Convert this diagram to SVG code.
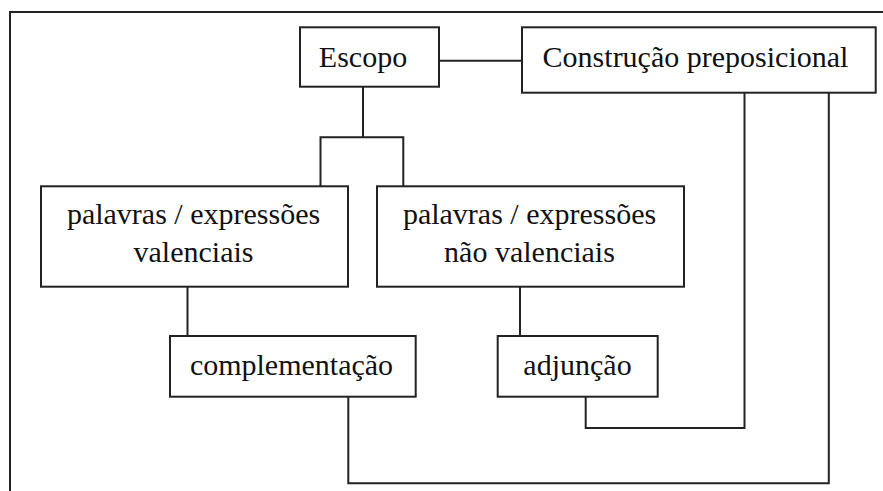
<svg xmlns="http://www.w3.org/2000/svg" width="883" height="491" viewBox="0 0 883 491">
<style>
.box{fill:#fff;stroke:#222;stroke-width:2}
.ln{fill:none;stroke:#222;stroke-width:2}
.t{font-size:30px;fill:#111;text-anchor:middle}
</style>
<rect x="0" y="0" width="883" height="491" fill="#fff"/>
<g id="frame"><path class="ln" d="M10,491 V12 H883"/></g>
<g id="connectors">
<path class="ln" d="M439,60.7 H522"/>
<path class="ln" d="M363,86.7 V137.3 M320.5,186.3 V137.3 H403.3 V186.7"/>
<path class="ln" d="M187.5,286.7 V336"/>
<path class="ln" d="M520,286.3 V336"/>
<path class="ln" d="M585.7,396.7 V428 H744.5 V92.7"/>
<path class="ln" d="M348.3,396.7 V483.3 H828.8 V92.7"/>
</g>
<g font-family="Liberation Serif, Tinos, DejaVu Serif, serif">
<g id="escopo"><rect class="box" x="300" y="27.3" width="139" height="59.4"/><text class="t" x="363" y="66.7">Escopo</text></g>
<g id="construcao"><rect class="box" x="522" y="27.3" width="353.7" height="65.4"/><text class="t" x="695.5" y="66.7">Construção preposicional</text></g>
<g id="valenciais"><rect class="box" x="41" y="186.3" width="307" height="100.4"/><text class="t" x="193.5" y="224">palavras / expressões</text><text class="t" x="193.5" y="261.7">valenciais</text></g>
<g id="naovalenciais"><rect class="box" x="377" y="186.3" width="307" height="100.4"/><text class="t" x="529.5" y="224">palavras / expressões</text><text class="t" x="529.5" y="261.7">não valenciais</text></g>
<g id="complementacao"><rect class="box" x="170" y="336" width="245.7" height="60.7"/><text class="t" x="291.5" y="375">complementação</text></g>
<g id="adjuncao"><rect class="box" x="497.7" y="336" width="160" height="60.7"/><text class="t" x="577.5" y="375">adjunção</text></g>
</g>
</svg>
